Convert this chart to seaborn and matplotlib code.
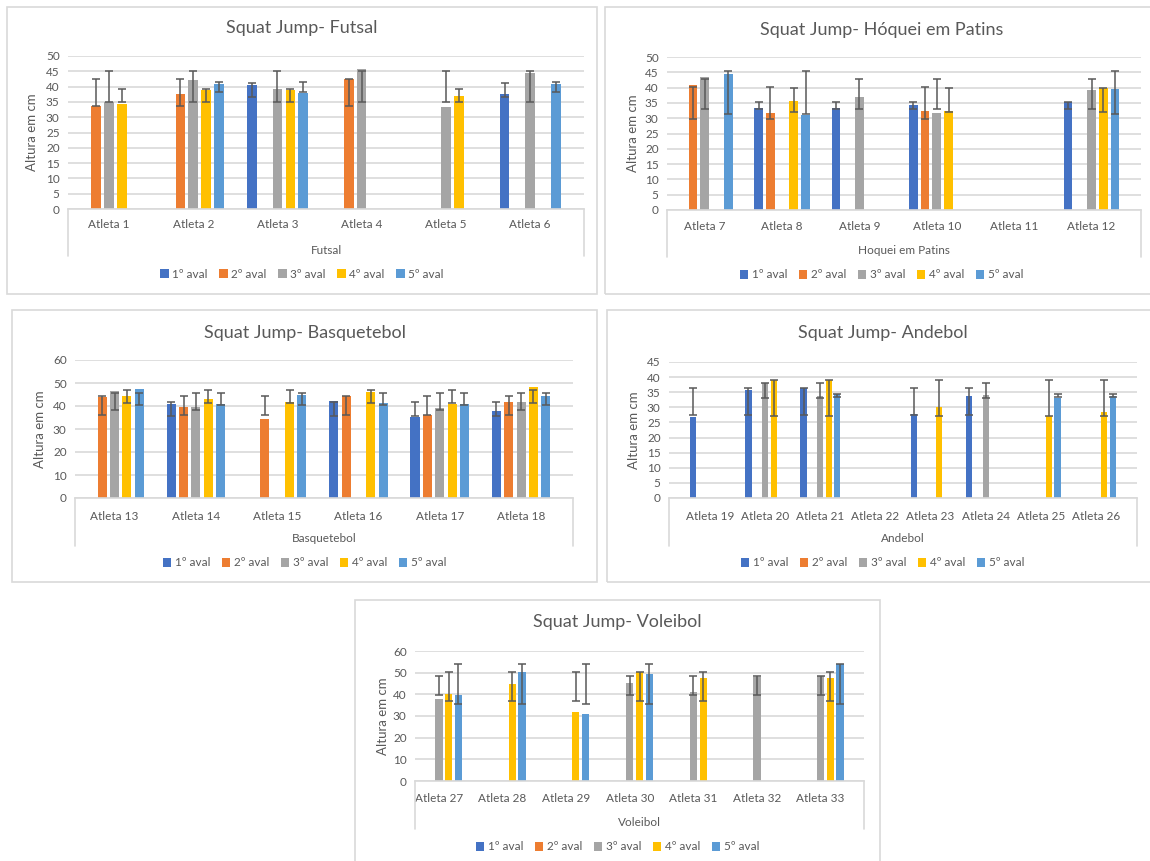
import numpy as np
import pandas as pd
import seaborn as sns
import matplotlib.pyplot as plt
from matplotlib.patches import Rectangle, Patch

W, H = 1150, 861
nan = np.nan

AVALS = ["1º aval", "2º aval", "3º aval", "4º aval", "5º aval"]
COLORS = ["#4472C4", "#ED7D31", "#A5A5A5", "#FFC000", "#5B9BD5"]

# --- Futsal ---
futsal_athletes = ["Atleta 1", "Atleta 2", "Atleta 3", "Atleta 4", "Atleta 5", "Atleta 6"]
futsal_values = [
    [nan, nan, 40.5, nan, nan, 37.5],
    [33.8, 37.5, nan, 42.6, nan, nan],
    [35.0, 42.3, 39.1, 45.7, 33.4, 44.4],
    [34.4, 38.8, 38.8, nan, 36.9, nan],
    [nan, 41.0, 37.9, nan, nan, 41.0],
]
futsal_err_lo = [36.5, 33.8, 35.0, 35.0, 38.3]
futsal_err_hi = [41.3, 42.5, 45.0, 39.3, 41.6]

# --- Hóquei em Patins ---
hoquei_athletes = ["Atleta 7", "Atleta 8", "Atleta 9", "Atleta 10", "Atleta 11", "Atleta 12"]
hoquei_values = [
    [nan, 33.2, 33.4, 34.3, nan, 35.2],
    [41.0, 31.7, nan, 32.3, nan, nan],
    [43.5, nan, 37.0, 31.7, nan, 39.1],
    [nan, 35.7, nan, 32.2, nan, 39.9],
    [44.5, 30.9, nan, nan, nan, 39.6],
]
hoquei_err_lo = [33.0, 29.9, 33.0, 32.0, 31.5]
hoquei_err_hi = [35.2, 40.1, 42.8, 39.8, 45.3]

# --- Basquetebol ---
basq_athletes = ["Atleta 13", "Atleta 14", "Atleta 15", "Atleta 16", "Atleta 17", "Atleta 18"]
basq_values = [
    [nan, 40.9, nan, 42.0, 35.1, 38.0],
    [43.7, 39.6, 34.5, 44.2, 36.3, 41.9],
    [46.6, 39.6, nan, nan, 39.1, 41.9],
    [44.2, 43.0, 41.7, 45.9, 40.9, 48.3],
    [47.3, 40.9, 44.9, 41.4, 40.9, 44.2],
]
basq_err_lo = [35.5, 36.3, 38.3, 41.3, 40.4]
basq_err_hi = [41.9, 44.2, 45.6, 47.0, 45.6]

# --- Andebol ---
andebol_athletes = ["Atleta 19", "Atleta 20", "Atleta 21", "Atleta 22",
                    "Atleta 23", "Atleta 24", "Atleta 25", "Atleta 26"]
andebol_values = [
    [26.9, 35.7, 36.4, nan, 27.7, 33.8, nan, nan],
    [nan, nan, nan, nan, nan, nan, nan, nan],
    [nan, 38.0, 33.6, nan, nan, 34.2, nan, nan],
    [nan, 39.2, 39.2, nan, 30.2, nan, 27.0, 28.6],
    [nan, nan, 34.4, nan, nan, nan, 33.1, 33.8],
]
andebol_err_lo = [27.6, nan, 33.1, 27.0, 33.3]
andebol_err_hi = [36.4, nan, 37.9, 39.0, 34.4]

# --- Voleibol ---
volei_athletes = ["Atleta 27", "Atleta 28", "Atleta 29", "Atleta 30",
                  "Atleta 31", "Atleta 32", "Atleta 33"]
volei_values = [
    [nan, nan, nan, nan, nan, nan, nan],
    [nan, nan, nan, nan, nan, nan, nan],
    [37.8, nan, nan, 45.2, 40.9, 48.1, 48.4],
    [40.3, 44.7, 31.7, 50.5, 47.6, nan, 47.6],
    [39.7, 50.1, 31.1, 49.5, nan, nan, 54.2],
]
volei_err_lo = [nan, nan, 39.7, 36.9, 35.5]
volei_err_hi = [nan, nan, 48.4, 50.4, 54.2]

TEXT = "#595959"
GRID = "#d9d9d9"
GROUP_W = 0.76

sns.set_theme(style="white")
plt.rcParams["font.family"] = ["Lato", "DejaVu Sans"]


def fx(x):
    return x / W


def fy(y):
    return 1 - y / H


def draw_panel(fig, title, sport, athletes, values, err_lo, err_hi, ymax, ystep, lay):
    bx0, by0, bx1, by1 = lay["box"]
    fig.add_artist(Rectangle((fx(bx0), fy(by1)), (bx1 - bx0) / W, (by1 - by0) / H,
                             transform=fig.transFigure, fill=False,
                             edgecolor=GRID, linewidth=1.2))
    l, t, r, b = lay["plot"]
    ax = fig.add_axes([fx(l), fy(b), (r - l) / W, (b - t) / H])

    rows = [(a, av, v) for av, vals in zip(AVALS, values)
            for a, v in zip(athletes, vals) if not np.isnan(v)]
    df = pd.DataFrame(rows, columns=["athlete", "aval", "value"])
    sns.barplot(data=df, x="athlete", y="value", hue="aval", order=athletes,
                hue_order=AVALS, palette=dict(zip(AVALS, COLORS)), width=GROUP_W,
                gap=0.26, saturation=1, errorbar=None, legend=False, ax=ax,
                linewidth=0, zorder=2)

    # error bars: series is recovered from each bar's dodge offset
    slot = GROUP_W / len(AVALS)
    xs_by_series = {i: [] for i in range(len(AVALS))}
    for p in ax.patches:
        xc = p.get_x() + p.get_width() / 2
        off = xc - round(xc)
        i = int(round((off + GROUP_W / 2 - slot / 2) / slot))
        xs_by_series[i].append(xc)
    for i, xs in xs_by_series.items():
        if not xs:
            continue
        lo, hi = err_lo[i], err_hi[i]
        ax.errorbar(xs, [(lo + hi) / 2] * len(xs), yerr=(hi - lo) / 2, fmt="none",
                    ecolor=TEXT, elinewidth=1.1, capsize=2.6, capthick=1.1, zorder=3)

    ax.set_ylim(0, ymax)
    ax.set_yticks(np.arange(0, ymax + 1, ystep))
    ax.yaxis.grid(True, color=GRID, linewidth=1.2)
    ax.set_axisbelow(True)
    for side in ("left", "right", "top"):
        ax.spines[side].set_visible(False)
    ax.spines["bottom"].set_color(GRID)
    ax.spines["bottom"].set_linewidth(1.2)
    ax.set_xlabel("")
    ax.set_ylabel("")
    pad_x = (lay["cat_y"] - b - 5.5) * 0.72
    ax.tick_params(axis="x", length=0, pad=pad_x, labelsize=8.5, labelcolor=TEXT)
    ax.tick_params(axis="y", length=0, pad=6, labelsize=8.5, labelcolor=TEXT)

    depth = (lay["depth_y"] - b) / (b - t)
    for xv in (0, 1):
        ax.plot([xv, xv], [0, -depth], transform=ax.transAxes, clip_on=False,
                color=GRID, linewidth=1.2)

    cx = (bx0 + bx1) / 2
    fig.text(fx(cx), fy(lay["title_y"]), title, ha="center", va="center",
             fontsize=13, color=TEXT)
    fig.text(fx(lay["ylabel_x"]), fy((t + b) / 2), "Altura em cm", rotation=90,
             ha="center", va="center", fontsize=9.5, color=TEXT)
    fig.text(fx((l + r) / 2), fy(lay["sport_y"]), sport, ha="center", va="center",
             fontsize=8.5, color=TEXT)
    handles = [Patch(facecolor=c, edgecolor="none") for c in COLORS]
    fig.legend(handles, AVALS, loc="center", bbox_to_anchor=(fx(cx), fy(lay["legend_y"])),
               ncol=5, frameon=False, fontsize=8.5, labelcolor=TEXT,
               handlelength=0.7, handleheight=0.7, handletextpad=0.3,
               columnspacing=1.0, borderaxespad=0, borderpad=0)
    return ax


fig = plt.figure(figsize=(W / 100, H / 100), dpi=100)
fig.patch.set_facecolor("white")

draw_panel(fig, "Squat Jump- Futsal", "Futsal", futsal_athletes, futsal_values,
           futsal_err_lo, futsal_err_hi, 50, 5,
           dict(box=(7, 7, 597, 294), plot=(68, 56, 584, 209), title_y=28,
                ylabel_x=32, cat_y=225, sport_y=250, depth_y=256, legend_y=274))
draw_panel(fig, "Squat Jump- Hóquei em Patins", "Hoquei em Patins", hoquei_athletes,
           hoquei_values, hoquei_err_lo, hoquei_err_hi, 50, 5,
           dict(box=(605, 7, 1158, 294), plot=(667, 57, 1141, 210), title_y=30,
                ylabel_x=633, cat_y=227, sport_y=251, depth_y=257, legend_y=275))
draw_panel(fig, "Squat Jump- Basquetebol", "Basquetebol", basq_athletes, basq_values,
           basq_err_lo, basq_err_hi, 60, 10,
           dict(box=(12, 310, 597, 582), plot=(75, 360, 573, 498), title_y=333,
                ylabel_x=40, cat_y=517, sport_y=538, depth_y=546, legend_y=563))
draw_panel(fig, "Squat Jump- Andebol", "Andebol", andebol_athletes, andebol_values,
           andebol_err_lo, andebol_err_hi, 45, 5,
           dict(box=(607, 310, 1158, 582), plot=(669, 362, 1137, 498), title_y=333,
                ylabel_x=634, cat_y=517, sport_y=538, depth_y=546, legend_y=563))
draw_panel(fig, "Squat Jump- Voleibol", "Voleibol", volei_athletes, volei_values,
           volei_err_lo, volei_err_hi, 60, 10,
           dict(box=(355, 600, 880, 868), plot=(415, 651, 864, 781), title_y=622,
                ylabel_x=383, cat_y=798, sport_y=822, depth_y=829, legend_y=847))

fig.savefig("out.png", dpi=100, facecolor="white")
